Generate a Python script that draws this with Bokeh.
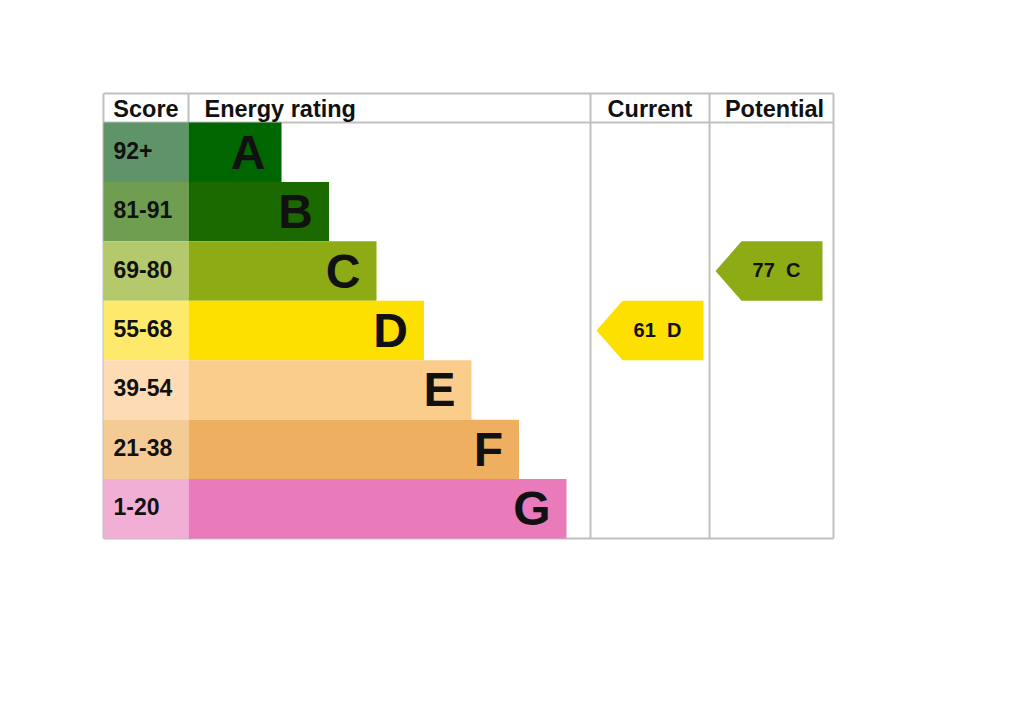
from bokeh.plotting import figure
from bokeh.models import Range1d, ColumnDataSource
from bokeh.embed import file_html
from bokeh.resources import INLINE
from bokeh.core.properties import value

# ---- data ----
bands = ["A", "B", "C", "D", "E", "F", "G"]
score_labels = ["92+", "81-91", "69-80", "55-68", "39-54", "21-38", "1-20"]
band_min = [92, 81, 69, 55, 39, 21, 1]
bar_colors = ["#006600", "#1b6a00", "#8cab14", "#fde000", "#fbcd8d", "#eeb060", "#e97bbb"]
score_colors = ["#5e9467", "#6f9e50", "#b4c96c", "#ffe96a", "#fddcb5", "#f4cb94", "#f2afd6"]
headers = ["Score", "Energy rating", "Current", "Potential"]
current_score = 61
potential_score = 77

# ---- layout (page pixel coordinates) ----
FONT = value("Liberation Sans")
L, SC, BAR0, CUR, POT, R = 103, 188, 188, 590, 709, 833
TOP, HEAD, BOT = 93, 122, 538
n = len(bands)
rh = (BOT - HEAD) / n
bar_step = 47.5
bar_first = 93

p = figure(width=1008, height=708, x_range=Range1d(0, 1008), y_range=Range1d(708, 0),
           output_backend="svg", toolbar_location=None, min_border=0)
p.axis.visible = False
p.grid.visible = False
p.outline_line_color = None
p.background_fill_color = "white"

tops = [HEAD + i * rh for i in range(n)]
bots = [HEAD + (i + 1) * rh for i in range(n)]
mids = [(a + b) / 2 for a, b in zip(tops, bots)]
ends = [BAR0 + bar_first + i * bar_step for i in range(n)]

src = ColumnDataSource(dict(band=bands, score=score_labels, bc=bar_colors, sc=score_colors,
                            top=tops, bot=bots, mid=mids, smid=[m - 2 for m in mids], end=ends,
                            lx=[e - 16 for e in ends], sx=[L + 10] * n,
                            l0=[L] * n, l1=[SC] * n, b0=[BAR0] * n))

# grid lines
gray = "#c0c0c0"
p.segment(x0=[L, L, L, L, SC, CUR, POT, R], y0=[TOP, HEAD, BOT, TOP, TOP, TOP, TOP, TOP],
          x1=[R, R, R, L, SC, CUR, POT, R], y1=[TOP, HEAD, BOT, BOT, HEAD, BOT, BOT, BOT],
          line_color=gray, line_width=2)

# score cells and bars
p.quad(left="l0", right="l1", top="top", bottom="bot", fill_color="sc", line_color=None, source=src)
p.quad(left="b0", right="end", top="top", bottom="bot", fill_color="bc", line_color=None, source=src)

p.text(x="sx", y="smid", text="score", source=src, text_font=FONT, text_font_style="bold",
       text_font_size="23px", text_baseline="middle", text_align="left", text_color="#111111")
p.text(x="lx", y="mid", text="band", source=src, text_font=FONT, text_font_style="bold",
       text_font_size="48px", text_baseline="middle", text_align="right", text_color="#111111")

# headers
hy = (TOP + HEAD) / 2 + 1
p.text(x=[(L + SC) / 2, BAR0 + 16, (CUR + POT) / 2, (POT + R) / 2 + 3], y=[hy] * 4, text=headers,
       text_align=["center", "left", "center", "center"], text_baseline="middle",
       text_font=FONT, text_font_style="bold", text_font_size="23.5px", text_color="#111111")


def band_index(s):
    for i, m in enumerate(band_min):
        if s >= m:
            return i
    return n - 1


def arrow(score, x_left, x_right):
    i = band_index(score)
    t, b, m = tops[i], bots[i], mids[i]
    xs = [x_left, x_left + 26, x_right, x_right, x_left + 26]
    ys = [m, t, t, b, b]
    p.patch(xs, ys, fill_color=bar_colors[i], line_color=None)
    p.text(x=[(x_left + 26 + x_right) / 2 - 5.5], y=[m - 1], text=[f"{score}\u00a0\u00a0{bands[i]}"],
           text_align="center", text_baseline="middle", text_font=FONT, text_font_style="bold",
           text_font_size="20px", text_color="#111111")


arrow(current_score, CUR + 6, POT - 6)
arrow(potential_score, POT + 6, R - 11)

open("out.html", "w").write(file_html(p, INLINE))
